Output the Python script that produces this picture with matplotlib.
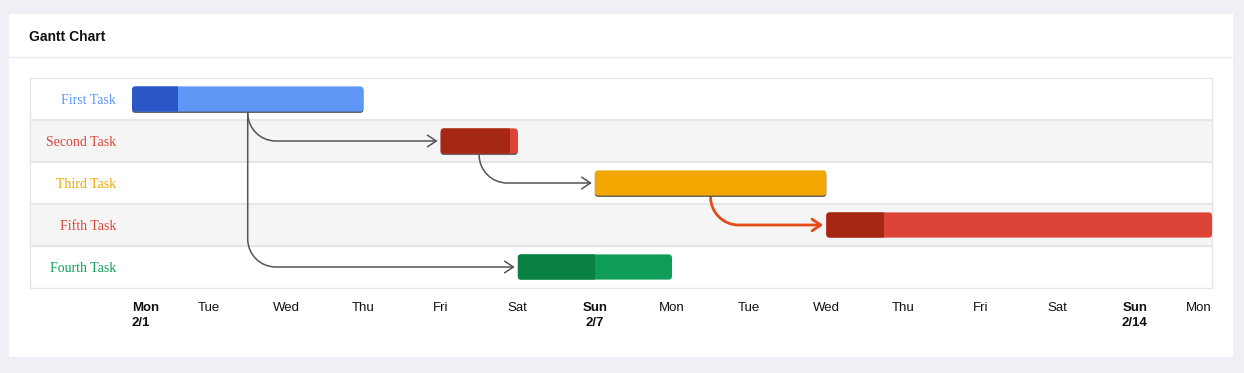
import matplotlib.pyplot as plt
from matplotlib.patches import FancyBboxPatch, Rectangle, FancyArrowPatch
from matplotlib.path import Path
import matplotlib.transforms as mtransforms

# data
tasks = ['First Task', 'Second Task', 'Third Task', 'Fifth Task', 'Fourth Task']
start_day = [0, 4, 6, 9, 5]
duration = [3, 1, 3, 5, 2]
percent_done = [20, 90, 0, 15, 50]
bar_colors = ['#5e97f6', '#db4437', '#f2a600', '#db4437', '#0f9d58']
dark_colors = ['#2a56c6', '#a52714', '#ee8100', '#a52714', '#0b8043']
# (from, to, critical)
dependencies = [(0, 1, False), (0, 4, False), (1, 2, False), (2, 3, True)]
tick_days = list(range(15))
tick_labels = ['Mon\n2/1', 'Tue', 'Wed', 'Thu', 'Fri', 'Sat', 'Sun\n2/7',
               'Mon', 'Tue', 'Wed', 'Thu', 'Fri', 'Sat', 'Sun\n2/14', 'Mon']
bold_ticks = [0, 6, 13]

W, H = 1244, 373
fig = plt.figure(figsize=(W / 100, H / 100), dpi=100)
fig.patch.set_facecolor('#eff0f6')

# card
card = fig.add_axes([9 / W, 1 - 357 / H, (1233 - 9) / W, (357 - 14) / H])
card.set_xlim(0, 1)
card.set_ylim(0, 1)
card.axis('off')
card.add_patch(Rectangle((0, 0), 1, 1, facecolor='white', edgecolor='none',
                         transform=card.transAxes))
card.axhline(1 - (57 - 14) / (357 - 14), color='#ececec', lw=1)
fig.text(29 / W, 1 - 37 / H, 'Gantt Chart', fontsize=10, fontweight='bold',
         family='Liberation Sans', va='center', ha='left', color='#111111')

# chart axes
px_day = (1212 - 132) / 14
ax = fig.add_axes([30 / W, 1 - 288 / H, (1212 - 30) / W, (288 - 78) / H])
ax.set_xlim(-(132 - 30) / px_day, 14)
ax.set_ylim(len(tasks), 0)
ax.set_facecolor('white')

for i in range(len(tasks)):
    if i % 2 == 1:
        ax.axhspan(i, i + 1, color='#f5f5f5', zorder=0)
    if i > 0:
        ax.axhline(i, color='#e6e6e6', lw=1.5, zorder=1)
for s in ax.spines.values():
    s.set_color('#e6e6e6')
    s.set_linewidth(1)

ax.set_yticks([])
ax.set_xticks(tick_days)
ax.set_xticklabels(tick_labels, family='Liberation Sans', fontsize=9.5,
                   color='#111111', linespacing=1.35)
ax.tick_params(axis='x', length=0, pad=10)
for k, lab in enumerate(ax.get_xticklabels()):
    if k in bold_ticks:
        lab.set_fontweight('bold')
    if k == 0:
        lab.set_ha('left')
    elif k == len(tick_days) - 1:
        lab.set_ha('right')

bar_h = 0.6
r_px = 3.5
has_dep = set(d[0] for d in dependencies)
label_offset = mtransforms.ScaledTranslation(-16 / 100, -1.5 / 100, fig.dpi_scale_trans)
for i, name in enumerate(tasks):
    y0 = i + 0.5 - bar_h / 2
    x0 = start_day[i]
    if i in has_dep:
        shadow = FancyBboxPatch((x0, y0 + 1.3 / 42), duration[i], bar_h,
                                boxstyle='round,pad=0,rounding_size=%f' % (r_px / px_day),
                                mutation_aspect=px_day / 42, facecolor='#555555',
                                edgecolor='none', zorder=3)
        ax.add_patch(shadow)
    bar = FancyBboxPatch((x0, y0), duration[i], bar_h,
                         boxstyle='round,pad=0,rounding_size=%f' % (r_px / px_day),
                         mutation_aspect=px_day / 42, facecolor=bar_colors[i],
                         edgecolor='none', zorder=4)
    ax.add_patch(bar)
    if percent_done[i] > 0:
        done = Rectangle((x0, y0), duration[i] * percent_done[i] / 100, bar_h,
                         facecolor=dark_colors[i], edgecolor='none', zorder=5)
        ax.add_patch(done)
        done.set_clip_path(bar)
    ax.text(0, i + 0.5, name, transform=ax.transData + label_offset,
            ha='right', va='center', family='Liberation Serif', fontsize=10,
            color=bar_colors[i])

# dependency arrows
rx = 28 / px_day
ry = 28 / 42
gap = 3 / px_day
kappa = 0.55
for src, dst, critical in dependencies:
    xs = start_day[src] + duration[src] / 2
    ys = src + 0.5 + bar_h / 2
    yt = dst + 0.5
    xt = start_day[dst] - gap
    r_y = min(ry, yt - ys)
    verts = [(xs, ys), (xs, yt - r_y),
             (xs, yt - r_y * (1 - kappa)), (xs + rx * (1 - kappa), yt), (xs + rx, yt),
             (xt, yt)]
    codes = [Path.MOVETO, Path.LINETO, Path.CURVE4, Path.CURVE4, Path.CURVE4, Path.LINETO]
    col = '#e64a19' if critical else '#555555'
    lw = 2 if critical else 1.1
    arr = FancyArrowPatch(path=Path(verts, codes),
                          arrowstyle='->,head_length=0.45,head_width=0.3',
                          mutation_scale=14, color=col, lw=lw,
                          shrinkA=0, shrinkB=0, zorder=2)
    ax.add_patch(arr)

fig.savefig('out.png', dpi=100, facecolor=fig.get_facecolor())
